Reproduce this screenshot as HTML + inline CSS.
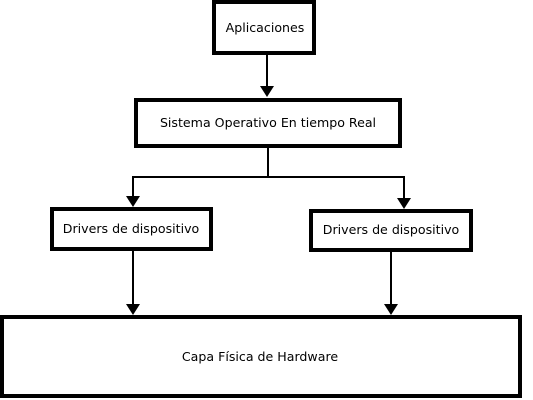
<!DOCTYPE html>
<html><head><meta charset="utf-8"><style>body{margin:0;background:#fff}</style></head><body>
<svg width="533" height="400" xmlns="http://www.w3.org/2000/svg" style="display:block">
<g fill="#fff" stroke="#000" stroke-width="4">
<rect x="214" y="2" width="100" height="51"/>
<rect x="136" y="100" width="264" height="46"/>
<rect x="52" y="209" width="159" height="40"/>
<rect x="311" y="211" width="160" height="39"/>
<rect x="2" y="317" width="518" height="79"/>
</g>
<g stroke="#000" stroke-width="2" fill="none">
<line x1="267" y1="55" x2="267" y2="90"/>
<polyline points="268,147 268,177 133,177 133,200"/>
<polyline points="268,177 404,177 404,202"/>
<line x1="133" y1="250" x2="133" y2="308"/>
<line x1="391" y1="251" x2="391" y2="308"/>
</g>
<g fill="#000">
<polygon points="260,86 274,86 267,97"/>
<polygon points="126,196 140,196 133,207"/>
<polygon points="397,198 411,198 404,209"/>
<polygon points="126,304 140,304 133,315"/>
<polygon points="384,304 398,304 391,315"/>
</g>
<g font-family="DejaVu Sans, sans-serif" font-size="12.6" text-anchor="middle" fill="#000">
<text x="265" y="32">Aplicaciones</text>
<text x="268" y="127">Sistema Operativo En tiempo Real</text>
<text x="131" y="233">Drivers de dispositivo</text>
<text x="391" y="234">Drivers de dispositivo</text>
<text x="260" y="361">Capa Física de Hardware</text>
</g>
</svg>
</body></html>
